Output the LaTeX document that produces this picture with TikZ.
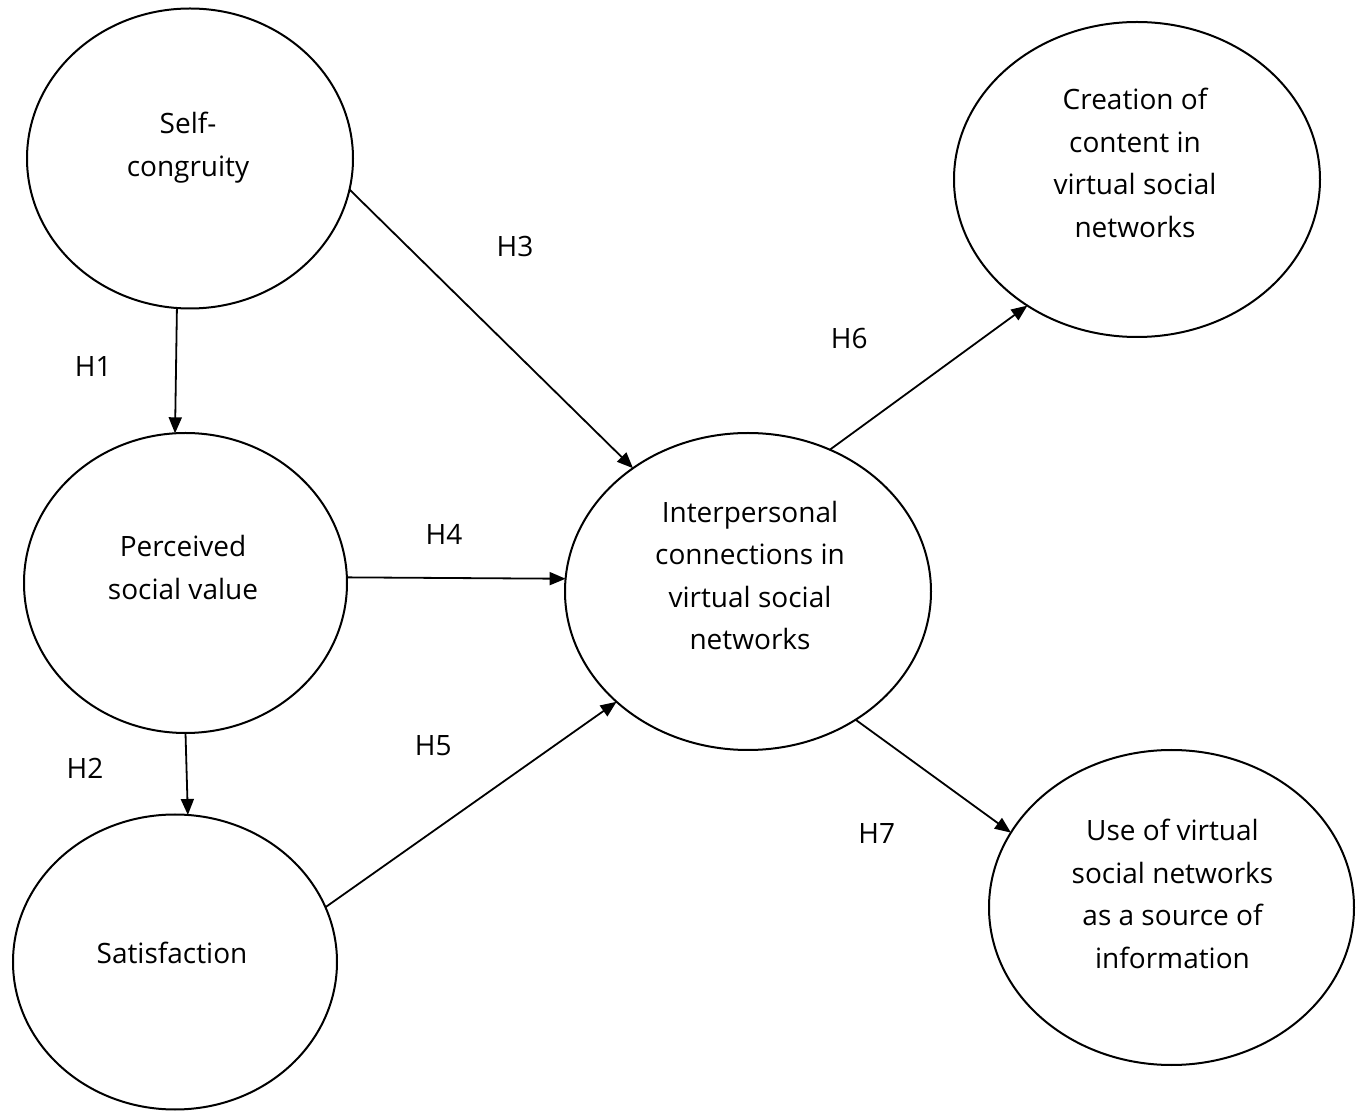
\documentclass[tikz,border=0pt]{standalone}
\usepackage{fontspec}
\setmainfont{Open Sans}
\usetikzlibrary{shapes.geometric,arrows.meta}
\begin{document}
\begin{tikzpicture}[x=0.5pt,y=-0.5pt,
  blob/.style={draw,ellipse,line width=1pt,inner sep=0pt,outer sep=0pt},
  txt/.style={align=center,font=\fontsize{14}{21.25}\selectfont,inner sep=0pt},
  hyp/.style={font=\fontsize{14}{17}\selectfont,inner sep=0pt},
  arr/.style={-{Triangle[length=8pt,width=6.5pt]},line width=0.9pt}]
\useasboundingbox (0,0) rectangle (1362,1112);
% ellipses
\node[blob,minimum width=163pt,minimum height=150pt] (sc) at (190,158.5) {};
\node[blob,minimum width=161.5pt,minimum height=150pt] (psv) at (185.5,583) {};
\node[blob,minimum width=162pt,minimum height=147.5pt] (sat) at (175,962) {};
\node[blob,minimum width=183pt,minimum height=158.5pt] (int) at (748,591.5) {};
\node[blob,minimum width=183pt,minimum height=157.5pt] (cr) at (1137,179.5) {};
\node[blob,minimum width=182.5pt,minimum height=157.5pt] (use) at (1171.5,907.5) {};
% texts
\node[txt] (tsc) at (188,147.5) {Self-\\congruity};
\node[txt] (tpsv) at (183,567.5) {Perceived\\social value};
\node[txt] (tsat) at (172,952.5) {Satisfaction};
\node[txt] (tint) at (750,575.5) {Interpersonal\\connections in\\virtual social\\networks};
\node[txt] (tcr) at (1135,163) {Creation of\\content in\\virtual social\\networks};
\node[txt] (tuse) at (1172.5,894) {Use of virtual\\social networks\\as a source of\\information};
% connectors
\draw[arr] (sc.-95.7) -- (psv.94);
\draw[arr] (psv.-90.8) -- (sat.85.7);
\draw[arr] (sc.-11.1) -- (int.133);
\draw[arr] (psv.2.1) -- (int.176.9);
\draw[arr] (sat.20.9) -- (int.220.5);
\draw[arr] (int.60.3) -- (cr.229.4);
\draw[arr] (int.-50.4) -- (use.155.9);
% hypothesis labels
\node[hyp] (h1) at (93.3,366.7) {H1};
\node[hyp] (h2) at (85,768) {H2};
\node[hyp] (h3) at (515,246.7) {H3};
\node[hyp] (h4) at (444,534) {H4};
\node[hyp] (h5) at (433.3,746) {H5};
\node[hyp] (h6) at (849.3,338.3) {H6};
\node[hyp] (h7) at (876.7,833.3) {H7};
\end{tikzpicture}
\end{document}
